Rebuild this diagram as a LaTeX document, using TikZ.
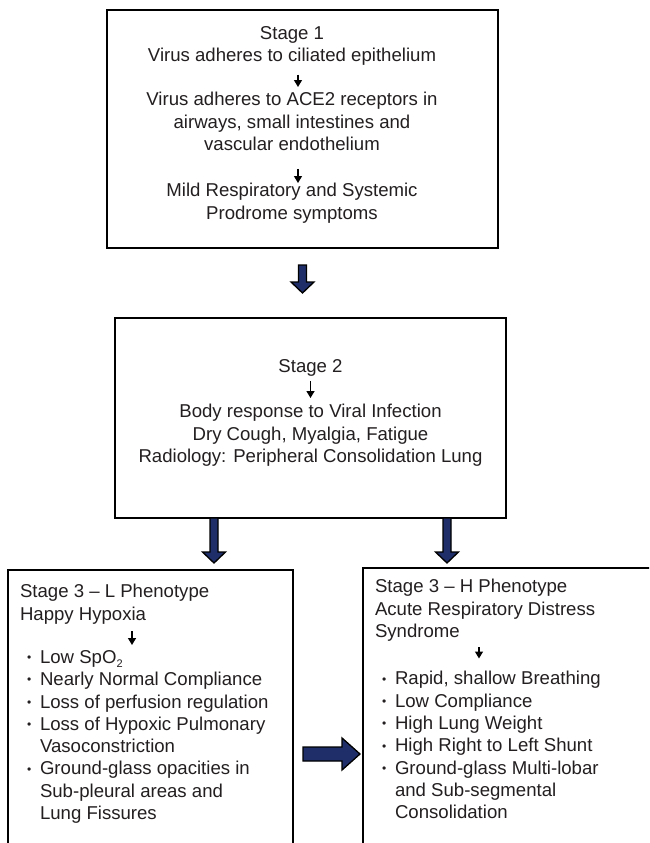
\documentclass[tikz,border=0pt]{standalone}
\usepackage{fontspec}
\setmainfont{Liberation Sans}
\usetikzlibrary{arrows.meta}
\definecolor{navy}{RGB}{31,46,104}
\definecolor{ink}{RGB}{35,31,32}
\newcommand\bl{\makebox[20pt][l]{\hspace*{7pt}\raisebox{1.8pt}{\fontsize{12pt}{12pt}\selectfont\textbullet}}}
\newcommand\ind{\hspace*{20pt}}
\newcommand\lowsub[1]{\raisebox{-4.5pt}{\fontsize{11pt}{11pt}\selectfont #1}}
\begin{document}
\begin{tikzpicture}[x=1pt,y=-1pt,
  font=\fontsize{18.6pt}{22.3pt}\selectfont, text=ink,
  box/.style={draw=black, line width=2.4pt, inner sep=0pt, outer sep=0pt, anchor=north west},
  txt/.style={inner sep=0pt, outer sep=0pt},
  smallarr/.style={line width=1.4pt, -{Triangle[length=7pt,width=8pt]}},
  bigarrow/.style={draw=black, line width=1.3pt, fill=navy, line join=miter},
  pics/vbig/.style={code={\draw[bigarrow] (-4,0) -- (-4,#1-11) -- (-11.5,#1-11) -- (0,#1) -- (11.5,#1-11) -- (4,#1-11) -- (4,0) -- cycle;}},
  pics/hbig/.style={code={\draw[bigarrow] (0,-7) -- (39,-7) -- (39,-16) -- (57,0) -- (39,16) -- (39,7) -- (0,7) -- cycle;}}
]
\useasboundingbox (0,0) rectangle (649,843);
\clip (0,0) rectangle (649,843);
\fill[white] (0,0) rectangle (649,843);

% boxes
\node[box, minimum width=391pt, minimum height=238pt] (s1) at (107,10) {};
\node[box, minimum width=391pt, minimum height=200pt] (s2) at (115,318) {};
\node[box, minimum width=285pt, minimum height=320pt] (L) at (8,570) {};
\node[box, minimum width=330pt, minimum height=320pt] (R) at (363,568) {};

% stage 1 texts
\node[txt, anchor=north, align=center] (t1) at (292,26.5) {Stage 1\\Virus adheres to ciliated epithelium};
\node[txt, anchor=north, align=center] (t2) at (292,92.5) {Virus adheres to ACE2 receptors in\\airways, small intestines and\\vascular endothelium};
\node[txt, anchor=north, align=center] (t3) at (292,183.5) {Mild Respiratory and Systemic\\Prodrome symptoms};
\draw[smallarr, shorten <=9pt, shorten >=5.5pt] ([xshift=6pt]t1.south) -- ([xshift=6pt]t2.north);
\draw[smallarr, shorten <=18pt, shorten >=0.5pt] ([xshift=6pt]t2.south) -- ([xshift=6pt]t3.north);

% stage 2 texts
\node[txt, anchor=north, align=center] (u1) at (310.5,359.5) {Stage 2};
\node[txt, anchor=north, align=center] (u2) at (310.5,404.5) {Body response to Viral Infection\\Dry Cough, Myalgia, Fatigue\\Radiology: Peripheral Consolidation Lung};
\draw[smallarr, shorten <=5pt, shorten >=6.5pt] (u1.south) -- (u2.north);

% stage 3 L
\node[txt, anchor=north west, align=left] (l1) at (20,584.5) {Stage 3 – L Phenotype\\Happy Hypoxia};
\node[txt, anchor=north west, align=left] (l2) at (20,650.5) {\bl Low SpO\lowsub{2}\\
\bl Nearly Normal Compliance\\
\bl Loss of perfusion regulation\\
\bl Loss of Hypoxic Pulmonary\\
\ind Vasoconstriction\\
\bl Ground-glass opacities in\\
\ind Sub-pleural areas and\\
\ind Lung Fissures};
\draw[smallarr, shorten <=7pt, shorten >=5.5pt] ([xshift=112pt]l1.south west) -- ([xshift=112pt]l2.north west);

% stage 3 H
\node[txt, anchor=north west, align=left] (r1) at (375,579.5) {Stage 3 – H Phenotype\\Acute Respiratory Distress\\Syndrome};
\node[txt, anchor=north west, align=left] (r2) at (375,671.5) {\bl Rapid, shallow Breathing\\
\bl Low Compliance\\
\bl High Lung Weight\\
\bl High Right to Left Shunt\\
\bl Ground-glass Multi-lobar\\
\ind and Sub-segmental\\
\ind Consolidation};
\draw[smallarr, shorten <=6pt, shorten >=13pt] ([xshift=104pt]r1.south west) -- ([xshift=104pt]r2.north west);

% big arrows
\coordinate (a1) at ([yshift=-17pt]s1.south);
\coordinate (a2) at ([xshift=99pt]s2.south west);
\coordinate (a3) at ([xshift=332pt]s2.south west);
\coordinate (a4) at ([xshift=10pt,yshift=-184pt]L.north east);
\pic at (a1) {vbig=28};
\pic at (a2) {vbig=45};
\pic at (a3) {vbig=45};
\pic at (a4) {hbig};
\end{tikzpicture}
\end{document}
